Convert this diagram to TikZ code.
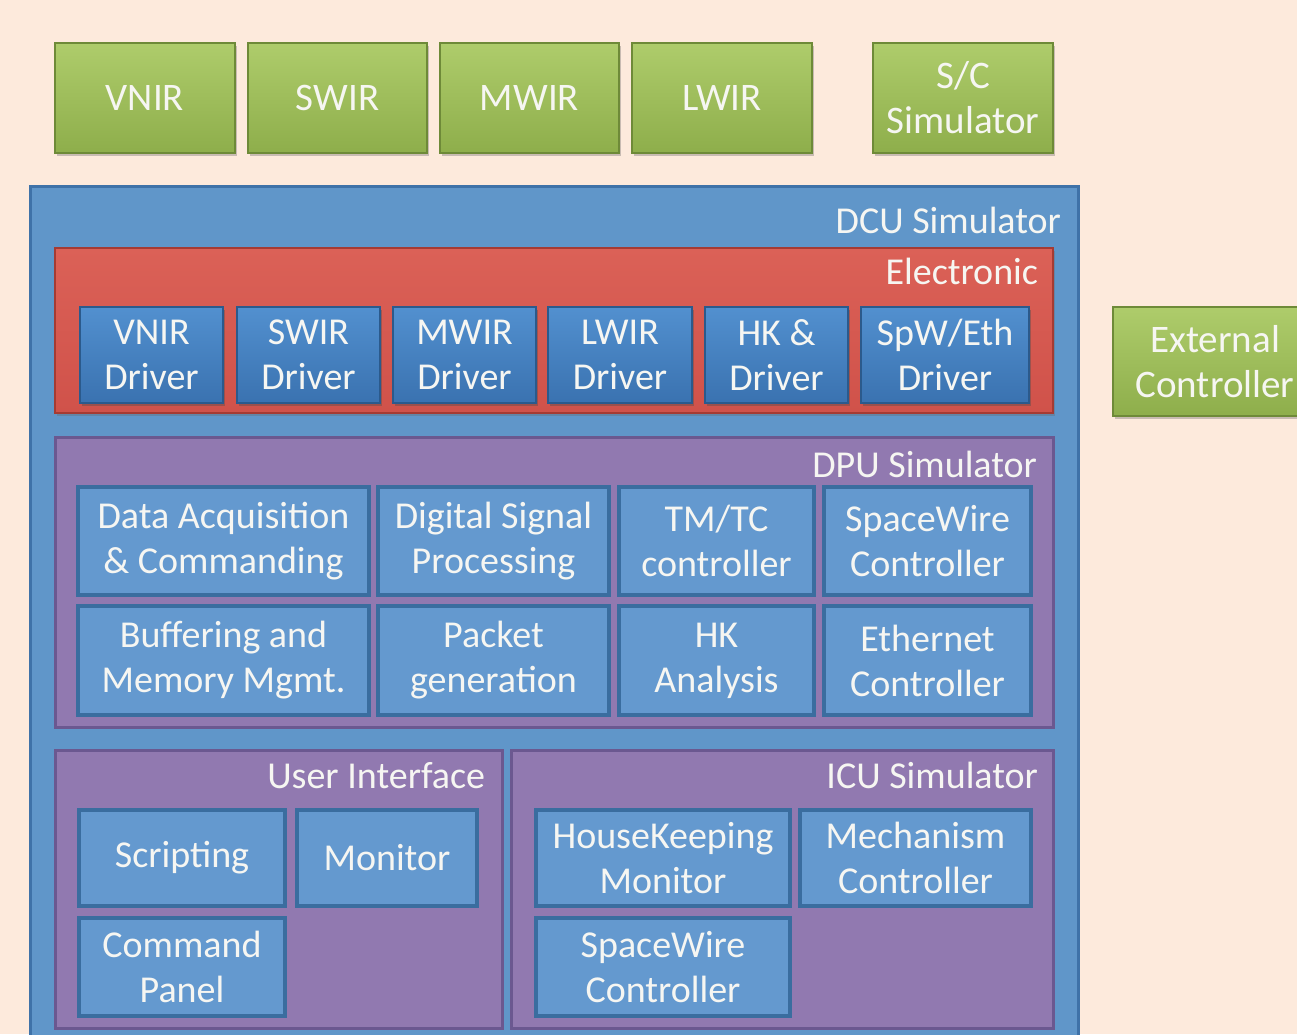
\documentclass[tikz,border=0pt]{standalone}
\usepackage{fontspec}
\setmainfont{Carlito}
\usetikzlibrary{shadows}
\definecolor{bgc}{HTML}{FDEADC}
\definecolor{gtop}{HTML}{AECC6B}
\definecolor{gbot}{HTML}{8EAE4B}
\definecolor{gbrd}{HTML}{6E8A38}
\definecolor{dcuf}{HTML}{6096C9}
\definecolor{dcub}{HTML}{3F72A8}
\definecolor{redt}{HTML}{DB6157}
\definecolor{redb}{HTML}{D0524A}
\definecolor{redd}{HTML}{A53B33}
\definecolor{drvt}{HTML}{5290CF}
\definecolor{drvb}{HTML}{3A72B0}
\definecolor{drvd}{HTML}{2B5A8C}
\definecolor{purf}{HTML}{9179B0}
\definecolor{purd}{HTML}{6B5890}
\definecolor{innf}{HTML}{6499CF}
\definecolor{innd}{HTML}{3A6D9F}
\definecolor{txt}{HTML}{F6F6F2}
\newcommand\mybox[7]{%
  \pgfmathsetmacro\bw{#5-#3}\pgfmathsetmacro\bh{#6-#4}%
  \node[#1, anchor=north west, minimum width=\bw pt, minimum height=\bh pt] (#2) at (#3,#4) {#7};}
\tikzset{
  every node/.style={inner sep=0pt, outer sep=0pt, text=txt, align=center},
  bigfont/.style={font=\fontsize{39}{45}\selectfont},
  midfont/.style={font=\fontsize{38}{45}\selectfont},
  gbox/.style={bigfont, draw=gbrd, line width=1.2pt, top color=gtop, bottom color=gbot,
    drop shadow={shadow xshift=2pt, shadow yshift=-3pt, opacity=0.35, fill=black!60}},
  dcubox/.style={fill=dcuf, draw=dcub, line width=3pt},
  redbox/.style={draw=redd, line width=1.2pt, top color=redt, bottom color=redb,
    drop shadow={shadow xshift=2pt, shadow yshift=-3pt, opacity=0.35, fill=black!60}},
  drvbox/.style={midfont, draw=drvd, line width=1.2pt, top color=drvt, bottom color=drvb,
    drop shadow={shadow xshift=2pt, shadow yshift=-3pt, opacity=0.4, fill=black!70}},
  purbox/.style={fill=purf, draw=purd, line width=3pt},
  innbox/.style={midfont, fill=innf, draw=innd, line width=4pt},
  lbl/.style={midfont, anchor=base east},
}
\begin{document}
\begin{tikzpicture}[x=1pt, y=-1pt]
\useasboundingbox (0,0) rectangle (1297,1034);
\clip (0,0) rectangle (1297,1034);
\fill[bgc] (0,0) rectangle (1297,1034);
% top green boxes
\mybox{gbox}{vnir}{55}{43}{235}{153}{VNIR}
\mybox{gbox}{swir}{248}{43}{427}{153}{SWIR}
\mybox{gbox}{mwir}{440}{43}{619}{153}{MWIR}
\mybox{gbox}{lwir}{632}{43}{812}{153}{LWIR}
\mybox{gbox}{sc}{873}{43}{1053}{153}{S/C\\Simulator}
\mybox{gbox}{ext}{1113}{307}{1317}{416}{External\\Controller}
% DCU
\mybox{dcubox}{dcu}{30}{186}{1078}{1050}{}
\node[lbl] (dculbl) at (1061,233) {DCU Simulator};
% Electronic
\mybox{redbox}{elec}{55}{248}{1053}{413}{}
\node[lbl] (eleclbl) at (1038,284) {Electronic};
\mybox{drvbox}{d1}{80}{307}{223}{403}{VNIR\\Driver}
\mybox{drvbox}{d2}{237}{307}{380}{403}{SWIR\\Driver}
\mybox{drvbox}{d3}{393}{307}{536}{403}{MWIR\\Driver}
\mybox{drvbox}{d4}{548}{307}{692}{403}{LWIR\\Driver}
\mybox{drvbox}{d5}{705}{307}{848}{403}{HK \&\\Driver}
\mybox{drvbox}{d6}{861}{307}{1029}{403}{SpW/Eth\\Driver}
% DPU
\mybox{purbox}{dpu}{55}{437}{1053}{727}{}
\node[lbl] (dpulbl) at (1037,477) {DPU Simulator};
\mybox{innbox}{p1}{78}{487}{369}{595}{Data Acquisition\\\& Commanding}
\mybox{innbox}{p2}{378}{487}{609}{595}{Digital Signal\\Processing}
\mybox{innbox}{p3}{619}{487}{814}{595}{TM/TC\\controller}
\mybox{innbox}{p4}{824}{487}{1031}{595}{SpaceWire\\Controller}
\mybox{innbox}{p5}{78}{606}{369}{715}{Buffering and\\Memory Mgmt.}
\mybox{innbox}{p6}{378}{606}{609}{715}{Packet\\generation}
\mybox{innbox}{p7}{619}{606}{814}{715}{HK\\Analysis}
\mybox{innbox}{p8}{824}{606}{1031}{715}{Ethernet\\Controller}
% User Interface
\mybox{purbox}{ui}{55}{750}{502}{1028}{}
\node[lbl] (uilbl) at (485,788) {User Interface};
\mybox{innbox}{u1}{79}{810}{285}{906}{Scripting}
\mybox{innbox}{u2}{297}{810}{477}{906}{Monitor}
\mybox{innbox}{u3}{79}{918}{285}{1016}{Command\\Panel}
% ICU
\mybox{purbox}{icu}{511}{750}{1053}{1028}{}
\node[lbl] (iculbl) at (1038,788) {ICU Simulator};
\mybox{innbox}{i1}{536}{810}{790}{906}{HouseKeeping\\Monitor}
\mybox{innbox}{i2}{800}{810}{1031}{906}{Mechanism\\Controller}
\mybox{innbox}{i3}{536}{918}{790}{1016}{SpaceWire\\Controller}
\end{tikzpicture}
\end{document}
